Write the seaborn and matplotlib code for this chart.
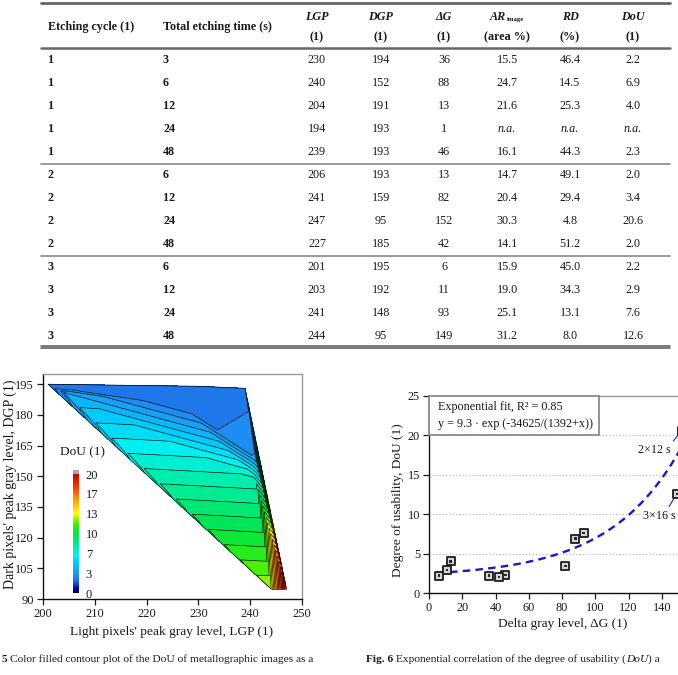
import numpy as np
import seaborn as sns
import matplotlib.pyplot as plt
import matplotlib.tri as mtri
from matplotlib.colors import LinearSegmentedColormap, Normalize
from matplotlib.cm import ScalarMappable
from matplotlib.lines import Line2D
from matplotlib.patches import Rectangle

# table data (n.a. -> None)
cycle = [1, 1, 1, 1, 1, 2, 2, 2, 2, 3, 3, 3, 3]
etch_time = [3, 6, 12, 24, 48, 6, 12, 24, 48, 6, 12, 24, 48]
lgp = [230, 240, 204, 194, 239, 206, 241, 247, 227, 201, 203, 241, 244]
dgp = [194, 152, 191, 193, 193, 193, 159, 95, 185, 195, 192, 148, 95]
delta_g = [36, 88, 13, 1, 46, 13, 82, 152, 42, 6, 11, 93, 149]
ar_image = [15.5, 24.7, 21.6, None, 16.1, 14.7, 20.4, 30.3, 14.1, 15.9, 19.0, 25.1, 31.2]
rd = [46.4, 14.5, 25.3, None, 44.3, 49.1, 29.4, 4.8, 51.2, 45.0, 34.3, 13.1, 8.0]
dou = [2.2, 6.9, 4.0, None, 2.3, 2.0, 3.4, 20.6, 2.0, 2.2, 2.9, 7.6, 12.6]

# points drawn in Fig. 6 (the 2x6 s sample is not visible there)
in_fig6 = [True, True, True, False, True, False, True, True, True, True, True, True, True]

# colour bar of Fig. 5
cbar_ticks = [0, 3.33, 6.67, 10, 13.33, 16.67, 20]
cbar_labels = ['0', '3', '7', '10', '13', '17', '20']

# dashed fit curve of Fig. 6: y = c + a*exp(x/t)
fit_a, fit_t, fit_c = 0.487, 43.1, 2.0

W, H = 678, 675
sns.set_style('ticks')
plt.rcParams['font.family'] = ['Liberation Serif', 'DejaVu Serif']

fig = plt.figure(figsize=(W / 100, H / 100), dpi=100)
renderer = fig.canvas.get_renderer()


def fx(x):
    return x / W


def fy(y):
    return 1 - y / H


def txt(x, y, s, **kw):
    kw.setdefault('fontsize', 8.7)
    kw.setdefault('va', 'center')
    kw.setdefault('color', '#1a1a1a')
    return fig.text(fx(x), fy(y), s, **kw)


def wpx(t):
    return t.get_window_extent(renderer).width


def hline(y, x0, x1, lw, color):
    fig.add_artist(Line2D([fx(x0), fx(x1)], [fy(y), fy(y)], lw=lw, color=color,
                          transform=fig.transFigure))


def runs(x, y, parts, size):
    gap = 0.25 * size * 100 / 72
    for s, weight, style, sp in parts:
        if sp:
            x += gap
        t = txt(x, y, s, ha='left', fontsize=size, fontweight=weight, fontstyle=style)
        x += wpx(t)


# ---------------- table ----------------
col_x = [48, 163, 317, 381, 444, 507, 570, 633]
row_y = [60 + 23 * i for i in range(len(cycle))]

hline(3, 41, 670, 2.0, '#666666')
hline(48, 41, 670, 1.8, '#666666')
hline(163.5, 41, 670, 1.2, '#888888')
hline(255.5, 41, 670, 1.2, '#888888')
hline(345.5, 41, 670, 1.1, '#555555')
hline(348.5, 41, 670, 1.1, '#555555')

txt(col_x[0], 27, 'Etching cycle (1)', ha='left', fontweight='bold')
txt(col_x[1], 27, 'Total etching time (s)', ha='left', fontweight='bold')
heads = ['LGP', 'DGP', 'ΔG', None, 'RD', 'DoU']
units = ['(1)', '(1)', '(1)', '(area %)', '(%)', '(1)']
for cx, hd, un in zip(col_x[2:], heads, units):
    if hd is None:
        t1 = txt(cx, 17, 'AR', ha='left', fontweight='bold', fontstyle='italic')
        t2 = txt(cx, 19, 'image', ha='left', fontsize=4.8, fontweight='bold')
        w1, w2 = wpx(t1), wpx(t2)
        x0 = cx - (w1 + w2 + 1) / 2
        t1.set_x(fx(x0))
        t2.set_x(fx(x0 + w1 + 1))
    else:
        txt(cx, 17, hd, ha='center', fontweight='bold', fontstyle='italic')
    txt(cx, 37, un, ha='center', fontweight='bold')

for i, y in enumerate(row_y):
    txt(col_x[0], y, str(cycle[i]), ha='left', fontweight='bold')
    txt(col_x[1], y, str(etch_time[i]), ha='left', fontweight='bold')
    txt(col_x[2], y, str(lgp[i]), ha='center')
    txt(col_x[3], y, str(dgp[i]), ha='center')
    txt(col_x[4], y, str(delta_g[i]), ha='center')
    for cx, v in zip(col_x[5:], [ar_image[i], rd[i], dou[i]]):
        if v is None:
            txt(cx, y, 'n.a.', ha='center', fontstyle='italic')
        else:
            txt(cx, y, f'{v:.1f}', ha='center')

# ---------------- Fig. 5: filled contour ----------------
cmap = LinearSegmentedColormap.from_list('dou', [
    (0.0, '#000000'), (0.04, '#0000c8'), (0.1, '#2070e6'), (0.17, '#1c9af5'),
    (0.25, '#00caff'), (0.32, '#00f0f0'), (0.4, '#00eca0'), (0.5, '#00e448'),
    (0.58, '#40f000'), (0.67, '#ffff00'), (0.8, '#ff9000'), (0.9, '#ff3000'),
    (1.0, '#d00000')])
cmap.set_over('#a8a8a8')

ok = [d is not None for d in dou]
xc = np.array([v for v, k in zip(lgp, ok) if k], float)
yc = np.array([v for v, k in zip(dgp, ok) if k], float)
zc = np.array([v for v, k in zip(dou, ok) if k], float)

ax1 = fig.add_axes([fx(43), fy(599), (302 - 43) / W, (599 - 374) / H])
tri = mtri.Triangulation(xc, yc)
levels = np.linspace(0, 20, 31)
ax1.tricontourf(tri, zc, levels=levels, cmap=cmap, extend='max')
ax1.tricontour(tri, zc, levels=levels, colors='k', linewidths=0.45)
for j, t in enumerate(tri.triangles):
    for k in range(3):
        if tri.neighbors[j, k] == -1:
            a, b = t[k], t[(k + 1) % 3]
            ax1.plot([xc[a], xc[b]], [yc[a], yc[b]], color='k', lw=0.5)
ax1.set_xlim(200, 250)
ax1.set_ylim(90, 200)
ax1.set_xticks(range(200, 251, 10))
ax1.set_yticks(range(90, 196, 15))

cax = fig.add_axes([fx(72.7), fy(593), 6 / W, (593 - 470) / H])
cb = fig.colorbar(ScalarMappable(norm=Normalize(0, 20), cmap=cmap), cax=cax,
                  extend='max', extendrect=True, extendfrac=0.035)
cb.set_ticks(cbar_ticks)
cb.set_ticklabels(cbar_labels)
cb.outline.set_visible(False)
cax.tick_params(length=0, labelsize=9, pad=5, colors='#1a1a1a')
txt(83, 452, 'DoU (1)', ha='center', fontsize=9.6)

txt(172, 632, "Light pixels' peak gray level, LGP (1)", ha='center', fontsize=9.6)
txt(10, 484, "Dark pixels' peak gray level, DGP (1)", ha='center', fontsize=10,
    rotation=90)

# ---------------- Fig. 6: exponential correlation ----------------
ax2 = fig.add_axes([fx(429), fy(593), 266 / W, (593 - 396) / H])
xs = [g for g, k in zip(delta_g, in_fig6) if k]
ys = [d for d, k in zip(dou, in_fig6) if k]
ax2.yaxis.grid(True, ls=(0, (1, 2)), color='#b0b0b0', lw=0.8)
ax2.set_axisbelow(True)

xfit = np.linspace(5, 160, 200)
sns.lineplot(x=xfit, y=fit_c + fit_a * np.exp(xfit / fit_t), ax=ax2,
             color='#1818d0', lw=1.7, zorder=2)
ax2.lines[-1].set_dashes((3.2, 2.2))
sns.scatterplot(x=xs, y=ys, ax=ax2, marker='s', s=28, color='#d4d4d4',
                edgecolor='#1c1c1c', linewidth=1.3, zorder=3, clip_on=False)
sns.scatterplot(x=xs, y=ys, ax=ax2, marker='s', s=3, color='#2a2a2a',
                edgecolor='none', zorder=4, clip_on=False)

ax2.annotate('2×12 s', xy=(152, 20.6), xytext=(135.5, 18.1), ha='center',
             va='center', fontsize=8.7, color='#1a1a1a', annotation_clip=False,
             arrowprops=dict(arrowstyle='-', color='#2020d0', lw=0.8,
                             relpos=(1, 1), shrinkA=0, shrinkB=4))
ax2.annotate('3×16 s', xy=(149, 12.6), xytext=(128.5, 9.8), ha='left',
             va='center', fontsize=8.7, color='#1a1a1a', annotation_clip=False,
             arrowprops=dict(arrowstyle='-', color='#2020d0', lw=0.8,
                             relpos=(0.75, 1), shrinkA=0, shrinkB=4))

ax2.set_xlim(0, 160)
ax2.set_ylim(0, 25)
ax2.set_xticks(range(0, 141, 20))
ax2.set_yticks(range(0, 26, 5))
ax2.set_xlabel('')
ax2.set_ylabel('')

ax2.add_patch(Rectangle((0, 20), 102, 5, transform=ax2.transData,
                        facecolor='white', edgecolor='#8a8a8a', lw=1.3,
                        zorder=5, clip_on=False))
txt(438, 407, 'Exponential fit, R² = 0.85', ha='left', fontsize=8.7, zorder=6)
txt(438, 424, 'y = 9.3 · exp (-34625/(1392+x))', ha='left', fontsize=8.7, zorder=6)

txt(563, 624, 'Delta gray level, ΔG (1)', ha='center', fontsize=9.6)
txt(398, 500, 'Degree of usability, DoU (1)', ha='center', fontsize=9.6,
    rotation=90)

for ax, lab in [(ax1, 9), (ax2, 8.8)]:
    for side in ['top', 'right']:
        ax.spines[side].set_color('#9a9a9a')
        ax.spines[side].set_linewidth(1.0)
    for side in ['left', 'bottom']:
        ax.spines[side].set_color('#111111')
        ax.spines[side].set_linewidth(1.0)
    ax.tick_params(direction='out', length=4, width=0.9, labelsize=lab,
                   colors='#1a1a1a', pad=2.5)
    ax.set_facecolor('white')

# ---------------- captions ----------------
runs(2, 659, [('5', 'bold', 'normal', False),
              ('Color filled contour plot of the DoU of metallographic images as a',
               'normal', 'normal', True)], 8.2)
runs(366, 659, [('Fig. 6', 'bold', 'normal', False),
                ('Exponential correlation of the degree of usability (', 'normal',
                 'normal', True),
                ('DoU', 'normal', 'italic', False),
                (') a', 'normal', 'normal', False)], 8.2)

fig.savefig('out.png', dpi=100)
